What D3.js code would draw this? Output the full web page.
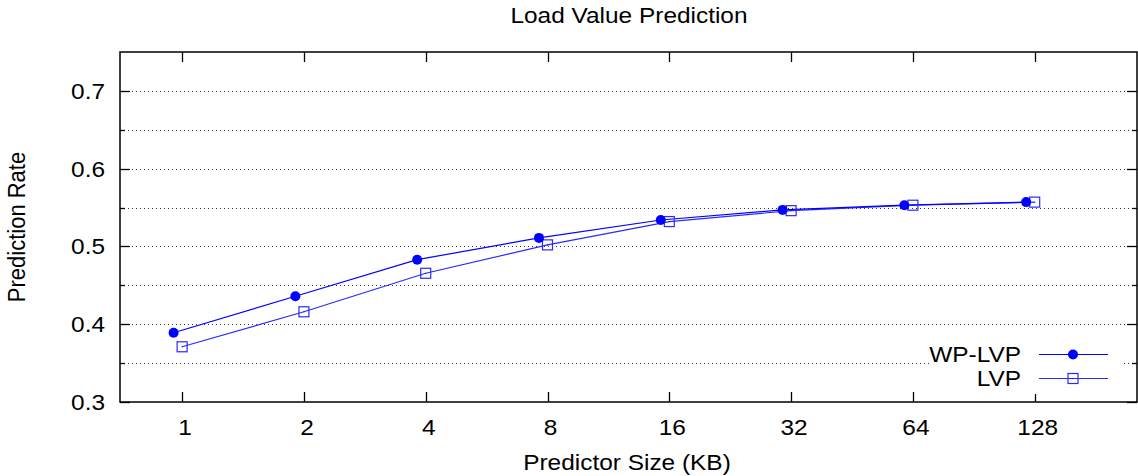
<!DOCTYPE html>
<html>
<head>
<meta charset="utf-8">
<script src="https://cdn.jsdelivr.net/npm/d3@7.9.0/dist/d3.min.js"></script>
<style>
  body { margin: 0; background: #fff; }
  svg { display: block; font-family: "Liberation Sans", Arial, sans-serif; }
</style>
</head>
<body>
<div id="chart"></div>
<script>
// values
const sizes = ['1', '2', '4', '8', '16', '32', '64', '128'];
const wpLvp = [0.389, 0.436, 0.483, 0.511, 0.534, 0.547, 0.553, 0.557];
const lvp = [0.371, 0.416, 0.4655, 0.502, 0.532, 0.546, 0.553, 0.557];
const yMajor = [0.3, 0.4, 0.5, 0.6, 0.7];
const yMinor = [0.35, 0.45, 0.55, 0.65];

const width = 1138, height = 476;
const plot = { left: 120, right: 1137, top: 52, bottom: 402 };
const fontSize = 22;
const stretch = 1.11; // text in the reference is a bit wider than Arial

const svg = d3.select('#chart').append('svg')
  .attr('width', width).attr('height', height);

function label(g, px, py, str, anchor, extra = '') {
  return g.append('text')
    .attr('transform', `translate(${px},${py}) scale(${stretch},1) ${extra}`)
    .attr('text-anchor', anchor)
    .attr('font-size', fontSize)
    .text(str);
}

const x = d3.scaleLinear().domain([-0.51, 7.84]).range([plot.left, plot.right]);
const y = d3.scaleLinear().domain([0.3, 0.75]).range([plot.bottom, plot.top]);
const wpShift = -0.07;

// dotted grid
svg.append('g').selectAll('line')
  .data(yMajor.concat(yMinor).filter(d => d > 0.3))
  .join('line')
  .attr('x1', plot.left).attr('x2', plot.right)
  .attr('y1', d => Math.round(y(d)) + 0.5).attr('y2', d => Math.round(y(d)) + 0.5)
  .attr('stroke', '#333').attr('stroke-width', 1)
  .attr('stroke-dasharray', '1,3');

// y ticks on both sides
const yt = svg.append('g').attr('stroke', '#000').attr('stroke-width', 1.3);
yMajor.concat(yMinor).forEach(v => {
  const len = yMajor.includes(v) ? 10 : 5;
  const py = Math.round(y(v)) + 0.5;
  yt.append('line').attr('x1', plot.left).attr('x2', plot.left + len).attr('y1', py).attr('y2', py);
  yt.append('line').attr('x1', plot.right - len).attr('x2', plot.right).attr('y1', py).attr('y2', py);
});

const yl = svg.append('g');
yMajor.forEach(v => label(yl, 105, y(v) + 8, v.toFixed(1), 'end'));

// x ticks bottom and top
const xt = svg.append('g').attr('stroke', '#000').attr('stroke-width', 1.3);
sizes.forEach((s, i) => {
  const px = Math.round(x(i)) + 0.5;
  xt.append('line').attr('x1', px).attr('x2', px).attr('y1', plot.bottom).attr('y2', plot.bottom - 10);
  xt.append('line').attr('x1', px).attr('x2', px).attr('y1', plot.top).attr('y2', plot.top + 10);
});

const xl = svg.append('g');
sizes.forEach((s, i) => label(xl, x(i) + 3, 435, s, 'middle'));

// legend background (opaque key)
svg.append('rect')
  .attr('x', 929).attr('y', 338).attr('width', 194).attr('height', 56)
  .attr('fill', '#fff');

// series
const line = d3.line();
const wpPts = wpLvp.map((v, i) => [x(i + wpShift), y(v)]);
const lvpPts = lvp.map((v, i) => [x(i), y(v)]);

svg.append('path').attr('d', line(lvpPts))
  .attr('fill', 'none').attr('stroke', '#2a2aff').attr('stroke-width', 1.2);
svg.append('path').attr('d', line(wpPts))
  .attr('fill', 'none').attr('stroke', '#0000ff').attr('stroke-width', 1.2);

function square(g, px, py) {
  g.append('rect')
    .attr('x', px - 5).attr('y', py - 5).attr('width', 10).attr('height', 10)
    .attr('fill', 'none').attr('stroke', '#2a2aff').attr('stroke-width', 1.2);
  g.append('rect')
    .attr('x', px - 0.5).attr('y', py - 0.5).attr('width', 1).attr('height', 1)
    .attr('fill', '#0000ff');
}

const sq = svg.append('g');
lvpPts.forEach(p => square(sq, p[0], p[1]));

svg.append('g').selectAll('circle').data(wpPts).join('circle')
  .attr('cx', d => d[0]).attr('cy', d => d[1]).attr('r', 5)
  .attr('fill', '#0000ff');

// legend
const leg = svg.append('g');
label(leg, 1021, 362, 'WP-LVP', 'end');
leg.append('line').attr('x1', 1039).attr('x2', 1108).attr('y1', 354.5).attr('y2', 354.5)
  .attr('stroke', '#0000ff').attr('stroke-width', 1.2);
leg.append('circle').attr('cx', 1073).attr('cy', 354.5).attr('r', 5).attr('fill', '#0000ff');

label(leg, 1021, 386, 'LVP', 'end');
leg.append('line').attr('x1', 1039).attr('x2', 1108).attr('y1', 378.5).attr('y2', 378.5)
  .attr('stroke', '#2a2aff').attr('stroke-width', 1.2);
square(leg, 1073, 378.5);

// frame
svg.append('rect')
  .attr('x', plot.left).attr('y', plot.top)
  .attr('width', plot.right - plot.left).attr('height', plot.bottom - plot.top)
  .attr('fill', 'none').attr('stroke', '#000').attr('stroke-width', 1.5);

// titles
const titles = svg.append('g');
label(titles, 629, 23, 'Load Value Prediction', 'middle');
label(titles, 627, 470, 'Predictor Size (KB)', 'middle');
titles.append('text')
  .attr('transform', `translate(25, ${(plot.top + plot.bottom) / 2}) scale(${stretch},1) rotate(-90)`)
  .attr('text-anchor', 'middle').attr('font-size', fontSize)
  .text('Prediction Rate');
</script>
</body>
</html>
